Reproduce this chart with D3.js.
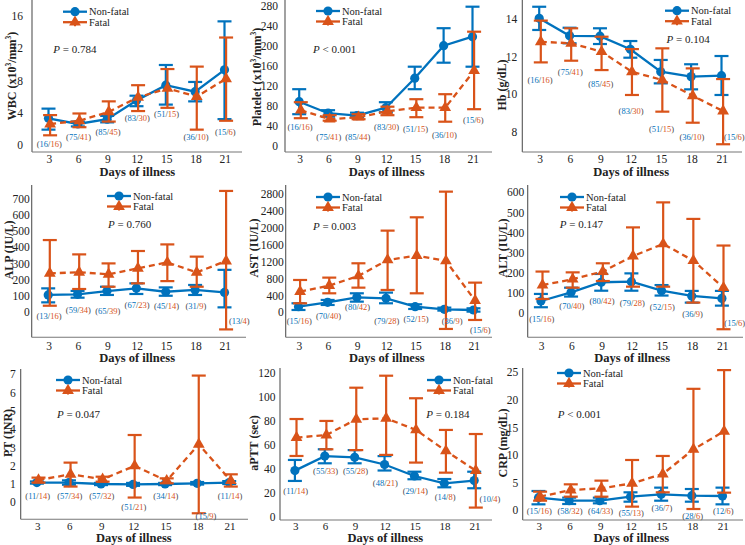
<!DOCTYPE html>
<html>
<head>
<meta charset="utf-8">
<script src="https://cdn.jsdelivr.net/npm/d3@7/dist/d3.min.js"></script>
<style>
body { margin: 0; background: #fff; }
</style>
</head>
<body>
<svg width="745" height="545"></svg>
<script>
var days = [3, 6, 9, 12, 15, 18, 21];

// WBC
var wbcNonFatal = [3.3, 2.6, 3.2, 5.5, 7.4, 6.6, 9.3];
var wbcNonFatalLo = [1.9, 2.3, 2.8, 4.8, 5.0, 5.4, 3.2];
var wbcNonFatalHi = [4.5, 2.9, 3.6, 6.1, 9.9, 7.8, 15.3];
var wbcFatal = [2.6, 3.0, 4.1, 5.9, 7.0, 6.0, 8.2];
var wbcFatalLo = [1.2, 2.2, 2.9, 4.2, 4.6, 1.9, 3.0];
var wbcFatalHi = [3.7, 3.9, 5.4, 7.4, 9.4, 9.7, 13.3];
var wbcN = [[16, 16], [75, 41], [85, 45], [83, 30], [51, 15], [36, 10], [15, 6]];

// Platelet
var pltNonFatal = [88, 65, 60, 76, 135, 200, 218];
var pltNonFatalLo = [63, 58, 57, 67, 113, 166, 158];
var pltNonFatalHi = [113, 71, 66, 87, 158, 235, 278];
var pltFatal = [71, 53, 57, 69, 76, 76, 150];
var pltFatalLo = [55, 50, 53, 61, 57, 48, 73];
var pltFatalHi = [87, 61, 63, 78, 93, 103, 228];
var pltN = [[16, 16], [75, 41], [85, 44], [83, 30], [51, 15], [36, 10], [15, 6]];

// Hb
var hbNonFatal = [14.05, 13.12, 13.1, 12.4, 11.2, 10.94, 10.99];
var hbNonFatalLo = [13.43, 12.72, 12.68, 11.95, 10.58, 10.26, 9.96];
var hbNonFatalHi = [14.67, 13.55, 13.52, 12.84, 11.83, 11.6, 12.04];
var hbFatal = [12.8, 12.72, 12.27, 11.2, 10.76, 9.92, 9.1];
var hbFatalLo = [11.7, 11.79, 11.29, 9.96, 9.07, 8.48, 7.33];
var hbFatalHi = [13.93, 13.52, 13.07, 12.41, 12.45, 11.38, 10.81];
var hbN = [[16, 16], [75, 41], [85, 45], [83, 30], [51, 15], [36, 10], [15, 6]];

// ALP
var alpNonFatal = [104, 108, 128, 145, 124, 135, 120];
var alpNonFatalLo = [58, 87, 104, 110, 99, 104, 27];
var alpNonFatalHi = [145, 129, 155, 176, 151, 166, 260];
var alpFatal = [238, 245, 232, 270, 306, 244, 315];
var alpFatalLo = [37, 141, 155, 176, 190, 155, -110];
var alpFatalHi = [445, 356, 300, 377, 418, 342, 750];
var alpN = [[13, 16], [59, 34], [65, 39], [67, 23], [45, 14], [31, 9], [13, 4]];

// AST
var astNonFatal = [134, 237, 356, 332, 134, 71, 55];
var astNonFatalLo = [55, 174, 253, 214, 79, 40, 16];
var astNonFatalHi = [214, 293, 451, 467, 190, 111, 95];
var astFatal = [490, 633, 862, 1242, 1345, 1218, 277];
var astFatalLo = [214, 451, 585, 530, 451, -395, -182];
var astFatalHi = [767, 823, 1163, 1938, 2254, 2863, 704];
var astN = [[15, 16], [70, 40], [80, 42], [79, 28], [52, 15], [36, 9], [15, 6]];

// ALT
var altNonFatal = [61, 104, 154, 157, 112, 86, 74];
var altNonFatalLo = [30, 83, 112, 112, 88, 53, 38];
var altNonFatalHi = [96, 127, 195, 198, 140, 111, 111];
var altFatal = [140, 169, 207, 284, 344, 261, 127];
var altFatalLo = [71, 127, 160, 132, 132, 53, -79];
var altFatalHi = [207, 203, 248, 426, 550, 468, 336];
var altN = [[15, 16], [70, 40], [80, 42], [79, 28], [52, 15], [36, 9], [15, 6]];

// PT
var ptNonFatal = [1.08, 1.08, 1.0, 0.98, 1.0, 1.04, 1.08];
var ptNonFatalLo = [1.02, 0.96, 0.94, 0.9, 0.94, 0.97, 1.0];
var ptNonFatalHi = [1.14, 1.2, 1.06, 1.06, 1.06, 1.11, 1.16];
var ptFatal = [1.22, 1.53, 1.26, 1.99, 1.18, 3.17, 1.18];
var ptFatalLo = [1.08, 0.86, 1.13, 0.26, 1.04, -0.6, 0.86];
var ptFatalHi = [1.35, 2.17, 1.4, 3.68, 1.31, 6.93, 1.53];
var ptN = [[11, 14], [57, 34], [57, 32], [51, 21], [34, 14], [15, 9], [11, 14]];

// aPTT
var apttNonFatal = [38.9, 51, 50, 44, 34.4, 28.3, 30.6];
var apttNonFatalLo = [30.3, 45, 45, 39, 31.7, 25, 24.2];
var apttNonFatalHi = [47.8, 56.7, 56, 51, 38, 31.9, 38];
var apttFatal = [66.4, 68.6, 81.7, 82.5, 72.8, 55.3, 38.9];
var apttFatalLo = [51.1, 56.7, 56, 52, 45.6, 37.2, 8.1];
var apttFatalHi = [81.9, 80.3, 108, 118, 99.2, 72.8, 69.4];
var apttN = [[11, 14], [55, 33], [55, 28], [48, 21], [29, 14], [14, 8], [10, 4]];

// CRP
var crpNonFatal = [2.24, 1.69, 1.69, 2.42, 2.85, 2.6, 2.54];
var crpNonFatalLo = [1.03, 1.09, 1.21, 1.51, 1.69, 1.51, 1.03];
var crpNonFatalHi = [3.45, 2.24, 2.24, 3.21, 4.06, 3.81, 4.06];
var crpFatal = [2.42, 3.63, 3.93, 4.84, 6.54, 11.0, 14.3];
var crpFatalLo = [1.69, 2.42, 2.42, 0.61, 3.21, 0.18, 3.15];
var crpFatalHi = [3.33, 4.66, 5.33, 9.08, 9.81, 22.0, 25.4];
var crpN = [[15, 16], [58, 32], [64, 33], [55, 13], [36, 7], [28, 6], [12, 6]];

var blue = '#0072BD', orange = '#D95319', ink = '#222';
var serif = "'Liberation Serif', 'Times New Roman', 'DejaVu Serif', serif";

// layout of each panel (pixels), y scale anchored on two ticks
var panels = [
  { title: 'WBC (x10^3^/mm^3^)', tx: 12, ty: 76, ax: 32, ay: 152, top: 0, right: 242, x3: 49.3, x21: 225.3,
    yv: [0, 16], yp: [145, 15.7], ticks: [0, 4, 8, 12, 16], pad: 9,
    nf: [wbcNonFatal, wbcNonFatalLo, wbcNonFatalHi], f: [wbcFatal, wbcFatalLo, wbcFatalHi], n: wbcN,
    labY: [0.1, 1.0, 1.6, 3.3, 3.8, 1.0, 1.6], shift: {},
    p: ['=', '0.784'], pAt: [3.4, 11.9], leg: [63, 11.7], xt: 172, tk: 159, fs: 11.5 },
  { title: 'Platelet (x10^3^/mm^3^)', tx: 257, ty: 77, ax: 285, ay: 152, top: 0, right: 492, x3: 300, x21: 473.3,
    yv: [0, 280], yp: [145.7, 5.7], ticks: [0, 40, 80, 120, 160, 200, 240, 280], pad: 7,
    nf: [pltNonFatal, pltNonFatalLo, pltNonFatalHi], f: [pltFatal, pltFatalLo, pltFatalHi], n: pltN,
    labY: [37, 18, 18, 37, 33, 21, 51], shift: {},
    p: ['<', '0.001'], pAt: [4.35, 193], leg: [316, 11], xt: 172, tk: 159, fs: 11.5 },
  { title: 'Hb (g/dL)', tx: 502, ty: 85, ax: 522.3, ay: 152, top: 0, right: 742, x3: 540, x21: 722.3,
    yv: [8, 14], yp: [131.7, 19.3], ticks: [8, 10, 12, 14], pad: 5,
    nf: [hbNonFatal, hbNonFatalLo, hbNonFatalHi], f: [hbFatal, hbFatalLo, hbFatalHi], n: hbN,
    labY: [10.76, 11.17, 10.53, 9.1, 8.13, 7.73, 7.73], shift: { 6: 12 },
    p: ['=', '0.104'], pAt: [15.5, 12.95], leg: [665, 10.7], xt: 172, tk: 159, fs: 11.5 },
  { title: 'ALP (IU/L)', tx: 9, ty: 250, ax: 31.7, ay: 337.3, top: 185, right: 246, x3: 49, x21: 225.3,
    yv: [0, 700], yp: [311.7, 199], ticks: [0, 100, 200, 300, 400, 500, 600, 700], pad: 2,
    nf: [alpNonFatal, alpNonFatalLo, alpNonFatalHi], f: [alpFatal, alpFatalLo, alpFatalHi], n: alpN,
    labY: [-25, 10, 4, 41, 35, 35, -56], shift: { 6: 14 },
    p: ['=', '0.760'], pAt: [9.03, 545], leg: [107, 196], xt: 358, tk: 345.5, fs: 11.5 },
  { title: 'AST (IU/L)', tx: 254, ty: 248, ax: 285.7, ay: 337.3, top: 185, right: 492, x3: 299.3, x21: 474.3,
    yv: [0, 2800], yp: [312.3, 194.3], ticks: [0, 400, 800, 1200, 1600, 2000, 2400, 2800], pad: 2,
    nf: [astNonFatal, astNonFatalLo, astNonFatalHi], f: [astFatal, astFatalLo, astFatalHi], n: astN,
    labY: [-198, -87, 119, -198, -166, -198, -419], shift: { 5: 7, 6: 6 },
    p: ['=', '0.003'], pAt: [4.4, 2048], leg: [316, 197], xt: 358, tk: 345.5, fs: 11.5 },
  { title: 'ALT (IU/L)', tx: 503, ty: 248, ax: 527.7, ay: 337.3, top: 185, right: 743, x3: 541.7, x21: 722.7,
    yv: [0, 600], yp: [313.3, 192.3], ticks: [0, 100, 200, 300, 400, 500, 600], pad: 3.5,
    nf: [altNonFatal, altNonFatalLo, altNonFatalHi], f: [altFatal, altFatalLo, altFatalHi], n: altN,
    labY: [-30, 36, 63, 53, 30, -5, -46], shift: { 6: 12 },
    p: ['=', '0.147'], pAt: [4.8, 443], leg: [560, 197], xt: 358, tk: 345.5, fs: 11.5 },
  { title: 'PT (INR)', tx: 8, ty: 433, ax: 20.7, ay: 519.3, top: 369, right: 248, x3: 37.7, x21: 230,
    yv: [0, 7], yp: [502.3, 374.3], ticks: [0, 1, 2, 3, 4, 5, 6, 7], pad: 5,
    nf: [ptNonFatal, ptNonFatalLo, ptNonFatalHi], f: [ptFatal, ptFatalLo, ptFatalHi], n: ptN,
    labY: [0.35, 0.35, 0.35, -0.27, 0.35, -0.75, 0.35], shift: { 5: 8 },
    p: ['=', '0.047'], pAt: [4.8, 4.83], leg: [56, 380], xt: 537.5, tk: 525.5, fs: 11 },
  { title: 'aPTT (sec)', tx: 254, ty: 443, ax: 280, ay: 520, top: 368, right: 492, x3: 295.7, x21: 475,
    yv: [0, 120], yp: [517.3, 373.3], ticks: [0, 20, 40, 60, 80, 100, 120], pad: 4.5,
    nf: [apttNonFatal, apttNonFatalLo, apttNonFatalHi], f: [apttFatal, apttFatalLo, apttFatalHi], n: apttN,
    labY: [21.9, 38.5, 38.5, 28.3, 21.9, 17.2, 15], shift: { 6: 15 },
    p: ['=', '0.184'], pAt: [16.1, 86], leg: [427, 380], xt: 537.5, tk: 525.5, fs: 11 },
  { title: 'CRP (mg/dL)', tx: 503, ty: 443, ax: 522.7, ay: 520, top: 368, right: 743, x3: 539.3, x21: 723.3,
    yv: [0, 25], yp: [510, 372.3], ticks: [0, 5, 10, 15, 20, 25], pad: 4.5,
    nf: [crpNonFatal, crpNonFatalLo, crpNonFatalHi], f: [crpFatal, crpFatalLo, crpFatalHi], n: crpN,
    labY: [-0.1, -0.1, -0.1, -0.6, 0.4, -1.0, -0.1], shift: {},
    p: ['<', '0.001'], pAt: [4.8, 17.5], leg: [557, 373], xt: 537.5, tk: 525.5, fs: 11 }
];

var svg = d3.select('svg').style('font-family', serif);

function marker(sel, cx, cy, col, tri) {
  if (tri) {
    sel.append('path')
      .attr('d', d3.symbol(d3.symbolTriangle).size(60)())
      .attr('transform', 'translate(' + cx + ',' + cy + ')')
      .attr('fill', col);
  } else {
    sel.append('circle').attr('cx', cx).attr('cy', cy).attr('r', 4.6).attr('fill', col);
  }
}

function drawSeries(g, x, y, s, col, tri, dx) {
  var pts = days.map(function(d, i) {
    return { x: x(d) + dx, m: s[0][i], lo: s[1][i], hi: s[2][i] };
  });
  g.append('path').datum(pts)
    .attr('d', d3.line().x(function(d) { return d.x; }).y(function(d) { return y(d.m); }))
    .attr('fill', 'none')
    .attr('stroke', col)
    .attr('stroke-width', 2.3)
    .attr('stroke-dasharray', tri ? '6,4' : null);
  var eb = g.append('g').attr('stroke', col).attr('stroke-width', 2.2);
  pts.forEach(function(d) {
    eb.append('line').attr('x1', d.x).attr('x2', d.x).attr('y1', y(d.lo)).attr('y2', y(d.hi));
    [d.lo, d.hi].forEach(function(v) {
      eb.append('line').attr('x1', d.x - 7).attr('x2', d.x + 7).attr('y1', y(v)).attr('y2', y(v));
    });
  });
  pts.forEach(function(d) { marker(g, d.x, y(d.m), col, tri); });
}

panels.forEach(function(p) {
  var g = svg.append('g');
  var x = d3.scaleLinear().domain([3, 21]).range([p.x3, p.x21]);
  var y = d3.scaleLinear().domain(p.yv).range(p.yp);

  // axis lines
  g.append('line').attr('x1', p.ax).attr('x2', p.ax).attr('y1', p.top).attr('y2', p.ay)
    .attr('stroke', '#555').attr('stroke-width', 1.1);
  g.append('line').attr('x1', p.ax).attr('x2', p.right).attr('y1', p.ay).attr('y2', p.ay)
    .attr('stroke', '#777').attr('stroke-width', 1.1);

  var ya = g.append('g').attr('transform', 'translate(' + p.ax + ',0)')
    .call(d3.axisLeft(y).tickValues(p.ticks).tickFormat(d3.format('d')).tickSize(0).tickPadding(p.pad));
  ya.select('.domain').remove();
  ya.attr('font-family', serif).attr('font-size', 11.5);
  ya.selectAll('text').attr('fill', ink);

  // day ticks
  g.append('g').selectAll('text').data(days).join('text')
    .attr('x', function(d) { return x(d); }).attr('y', p.tk)
    .attr('text-anchor', 'middle').attr('dominant-baseline', 'central')
    .attr('font-size', p.fs).attr('fill', ink)
    .text(function(d) { return d; });

  // axis titles
  g.append('text').attr('x', x(12)).attr('y', p.xt)
    .attr('text-anchor', 'middle').attr('dominant-baseline', 'central')
    .attr('font-weight', 'bold').attr('font-size', 12.5).attr('fill', ink)
    .text('Days of illness');

  var yt = g.append('text')
    .attr('transform', 'translate(' + p.tx + ',' + p.ty + ') rotate(-90)')
    .attr('text-anchor', 'middle').attr('dominant-baseline', 'central')
    .attr('font-weight', 'bold').attr('font-size', 12).attr('fill', ink);
  p.title.split('^').forEach(function(part, i) {
    if (i % 2 === 1) {
      yt.append('tspan').attr('dy', -4).attr('font-size', 7.5).text(part);
    } else {
      yt.append('tspan').attr('dy', i > 0 ? 4 : 0).text(part);
    }
  });

  // series
  drawSeries(g, x, y, p.nf, blue, false, -0.8);
  drawSeries(g, x, y, p.f, orange, true, 0.8);

  // counts (non-fatal/fatal)
  p.n.forEach(function(c, i) {
    var t = g.append('text')
      .attr('x', x(days[i]) + (p.shift[i] || 0)).attr('y', y(p.labY[i]))
      .attr('text-anchor', 'middle').attr('dominant-baseline', 'central')
      .attr('font-size', 8.5).attr('fill', '#444');
    t.append('tspan').text('(');
    t.append('tspan').attr('fill', blue).text(c[0]);
    t.append('tspan').text('/');
    t.append('tspan').attr('fill', orange).text(c[1]);
    t.append('tspan').text(')');
  });

  // P value
  var pt = g.append('text').attr('x', x(p.pAt[0])).attr('y', y(p.pAt[1]))
    .attr('dominant-baseline', 'central').attr('font-size', 11).attr('fill', ink);
  pt.append('tspan').attr('font-style', 'italic').text('P');
  pt.append('tspan').text(' ' + p.p[0] + ' ' + p.p[1]);

  // legend
  [['Non-fatal', blue, false], ['Fatal', orange, true]].forEach(function(l, k) {
    var lx = p.leg[0], ly = p.leg[1] + k * 10.5;
    var lg = g.append('g');
    lg.append('line').attr('x1', lx).attr('x2', lx + 24).attr('y1', ly).attr('y2', ly)
      .attr('stroke', l[1]).attr('stroke-width', 2.3);
    lg.append('line').attr('x1', lx + 12).attr('x2', lx + 12).attr('y1', ly - 4).attr('y2', ly + 4)
      .attr('stroke', l[1]).attr('stroke-width', 2);
    marker(lg, lx + 12, ly, l[1], l[2]);
    lg.append('text').attr('x', lx + 26).attr('y', ly).attr('dominant-baseline', 'central')
      .attr('font-size', 10.5).attr('fill', ink).text(l[0]);
  });
});
</script>
</body>
</html>
